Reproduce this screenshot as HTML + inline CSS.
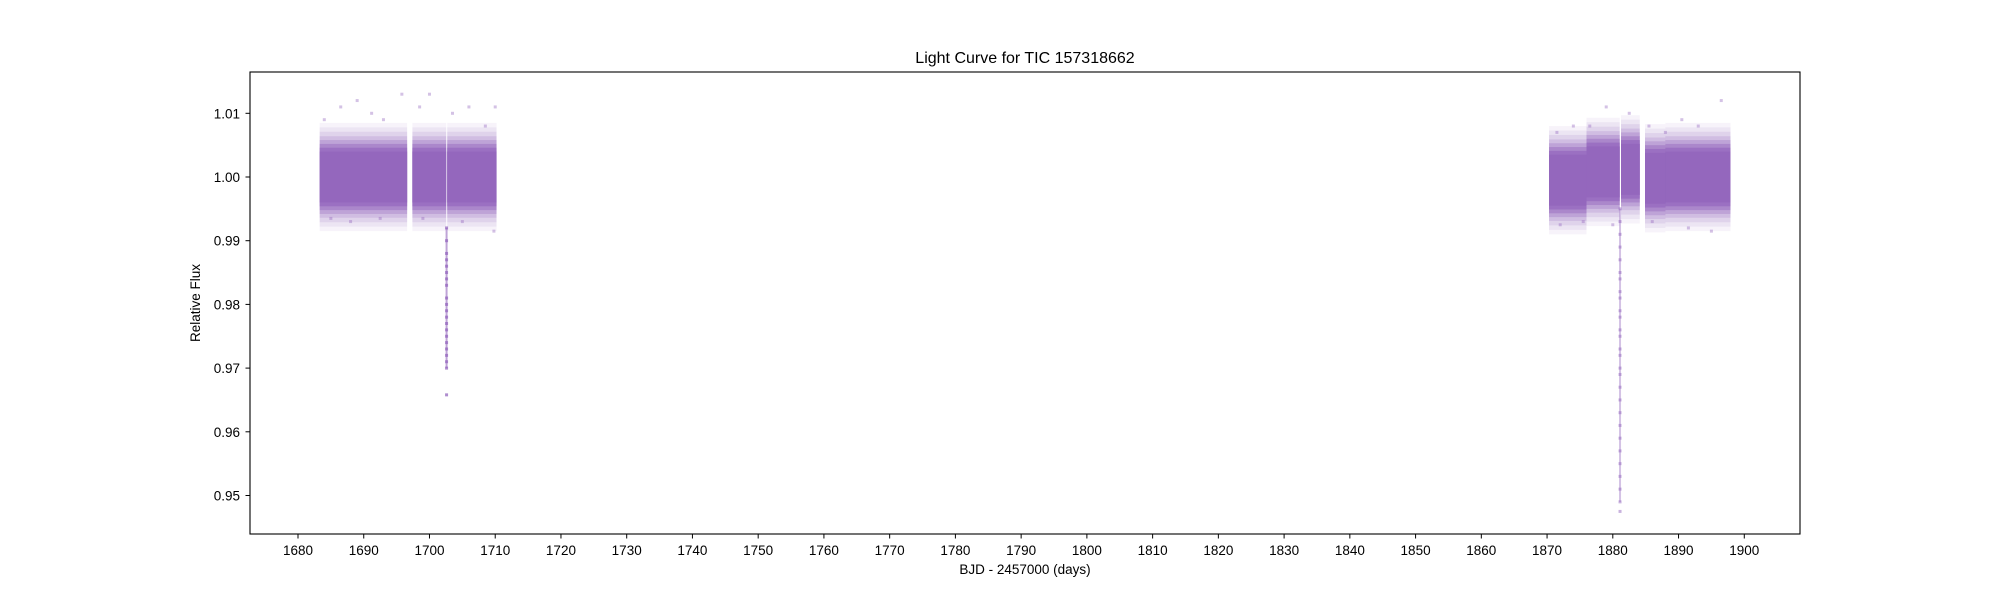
<!DOCTYPE html>
<html><head><meta charset="utf-8"><style>
body{margin:0;background:#fff;}
svg{display:block;font-family:"Liberation Sans","DejaVu Sans",sans-serif;}
</style></head><body>
<svg id="chart" width="2000" height="600" viewBox="0 0 2000 600" xmlns="http://www.w3.org/2000/svg">
<rect width="2000" height="600" fill="#fff"/>
<g id="plot"></g>
<rect x="250" y="72" width="1550" height="462" fill="none" stroke="#000" stroke-width="1.1"/>
<g id="xt"></g>
<g id="yt"></g>
<text x="1025" y="63" font-size="16" text-anchor="middle">Light Curve for TIC 157318662</text>
<text x="1025" y="574" font-size="13.5" text-anchor="middle">BJD - 2457000 (days)</text>
<text x="0" y="0" font-size="13.5" text-anchor="middle" transform="translate(200,303) rotate(-90)">Relative Flux</text>
</svg>
<script>
const xTicks=[1680,1690,1700,1710,1720,1730,1740,1750,1760,1770,1780,1790,1800,1810,1820,1830,1840,1850,1860,1870,1880,1890,1900];
const yTicks=[0.95,0.96,0.97,0.98,0.99,1.00,1.01];
const yTickLabels=["0.95","0.96","0.97","0.98","0.99","1.00","1.01"];
const segStart=[1683.3,1697.4,1870.3,1876.0,1881.25,1884.9,1888.0];
const segEnd=[1696.6,1702.55,1876.0,1881.05,1884.1,1888.0,1897.9];
const segCenter=[1.0,1.0,0.9995,1.0008,1.0012,0.9998,1.0];
const seg2Start=[1702.7];const seg2End=[1710.2];const seg2Center=[1.0];
const dip1Time=[1702.6,1702.6,1702.6,1702.6,1702.6,1702.6,1702.6,1702.6,1702.6,1702.6,1702.6,1702.6,1702.6,1702.6,1702.6,1702.6,1702.6,1702.6,1702.6,1702.6,1702.6];
const dip1Flux=[0.992,0.990,0.988,0.987,0.986,0.985,0.984,0.983,0.981,0.980,0.979,0.978,0.977,0.976,0.975,0.974,0.973,0.972,0.971,0.970,0.9658];
const dip2Time=[1881.1,1881.1,1881.1,1881.1,1881.1,1881.1,1881.1,1881.1,1881.1,1881.1,1881.1,1881.1,1881.1,1881.1,1881.1,1881.1,1881.1,1881.1,1881.1,1881.1,1881.1,1881.1,1881.1,1881.1,1881.1,1881.1,1881.1,1881.1];
const dip2Flux=[0.995,0.993,0.991,0.989,0.987,0.985,0.984,0.982,0.981,0.979,0.978,0.976,0.975,0.973,0.972,0.970,0.969,0.967,0.965,0.963,0.961,0.959,0.957,0.955,0.953,0.951,0.949,0.9475];
const outTime=[1684,1686.5,1689,1691.2,1693,1695.8,1698.5,1700,1703.5,1706,1708.5,1710,1685,1688,1692.5,1699,1705,1709.8,1871.5,1874,1876.5,1879,1882.5,1885.5,1888,1890.5,1893,1896.5,1872,1875.5,1880,1886,1891.5,1895];
const outFlux=[1.009,1.011,1.012,1.010,1.009,1.013,1.011,1.013,1.010,1.011,1.008,1.011,0.9935,0.9930,0.9935,0.9935,0.9930,0.9915,1.007,1.008,1.008,1.011,1.010,1.008,1.007,1.009,1.008,1.012,0.9925,0.9930,0.9925,0.9930,0.9920,0.9915];
const X=t=>298+(t-1680)*6.574;
const Y=f=>177-(f-1.0)*6370;
const NS="http://www.w3.org/2000/svg";
const plot=document.getElementById('plot');
const C="#9467bd";
function mk(tag,attrs,parent){const e=document.createElementNS(NS,tag);for(const k in attrs)e.setAttribute(k,attrs[k]);parent.appendChild(e);return e;}
const layers=[[0.0085,0.08],[0.0078,0.1],[0.0071,0.14],[0.0064,0.2],[0.0058,0.3],[0.0052,0.45],[0.0046,0.7],[0.004,1]];
function band(st,en,ce){
  for(let i=0;i<st.length;i++){
    for(const [hw,op] of layers){
      const r=mk('rect',{x:X(st[i]),y:Y(ce[i]+hw),width:X(en[i])-X(st[i]),height:Y(ce[i]-hw)-Y(ce[i]+hw),fill:C,'fill-opacity':op},plot);
      
      
    }
  }
}
band(segStart,segEnd,segCenter);
band(seg2Start,seg2End,seg2Center);
function dipBody(ts,fs,op){
  const top=Math.max(...fs.slice(0,fs.length-1)),bot=Math.min(...fs.slice(0,fs.length-1));
  const r=mk('rect',{x:X(ts[0])-1,y:Y(top),width:2,height:Y(bot)-Y(top),fill:C,'fill-opacity':op},plot);
  
  
}
dipBody(dip1Time,dip1Flux,0.6);
dipBody(dip2Time,dip2Flux,0.4);
function pts(ts,fs,op){
  for(let i=0;i<ts.length;i++){
    const c=mk('rect',{x:X(ts[i])-1.5,y:Y(fs[i])-1.5,width:3,height:3,fill:C,'fill-opacity':op},plot);
    
    
  }
}
pts(dip1Time,dip1Flux,0.75);
pts(dip2Time,dip2Flux,0.5);
pts(outTime,outFlux,0.4);
const xt=document.getElementById('xt');
xTicks.forEach(v=>{
  const x=X(v);
  const l=mk('line',{x1:x,x2:x,y1:534,y2:538.5,stroke:'#000','stroke-width':1},xt);
  
  
  const t=mk('text',{x:x,y:555,'font-size':13.5,'text-anchor':'middle'},xt);
  t.textContent=v;
  
  
});
const yt=document.getElementById('yt');
yTicks.forEach((v,i)=>{
  const y=Y(v);
  const l=mk('line',{x1:245.5,x2:250,y1:y,y2:y,stroke:'#000','stroke-width':1},yt);
  
  
  const t=mk('text',{x:240,y:y+5,'font-size':13.5,'text-anchor':'end'},yt);
  t.textContent=yTickLabels[i];
  
  
});
</script>
</body></html>
